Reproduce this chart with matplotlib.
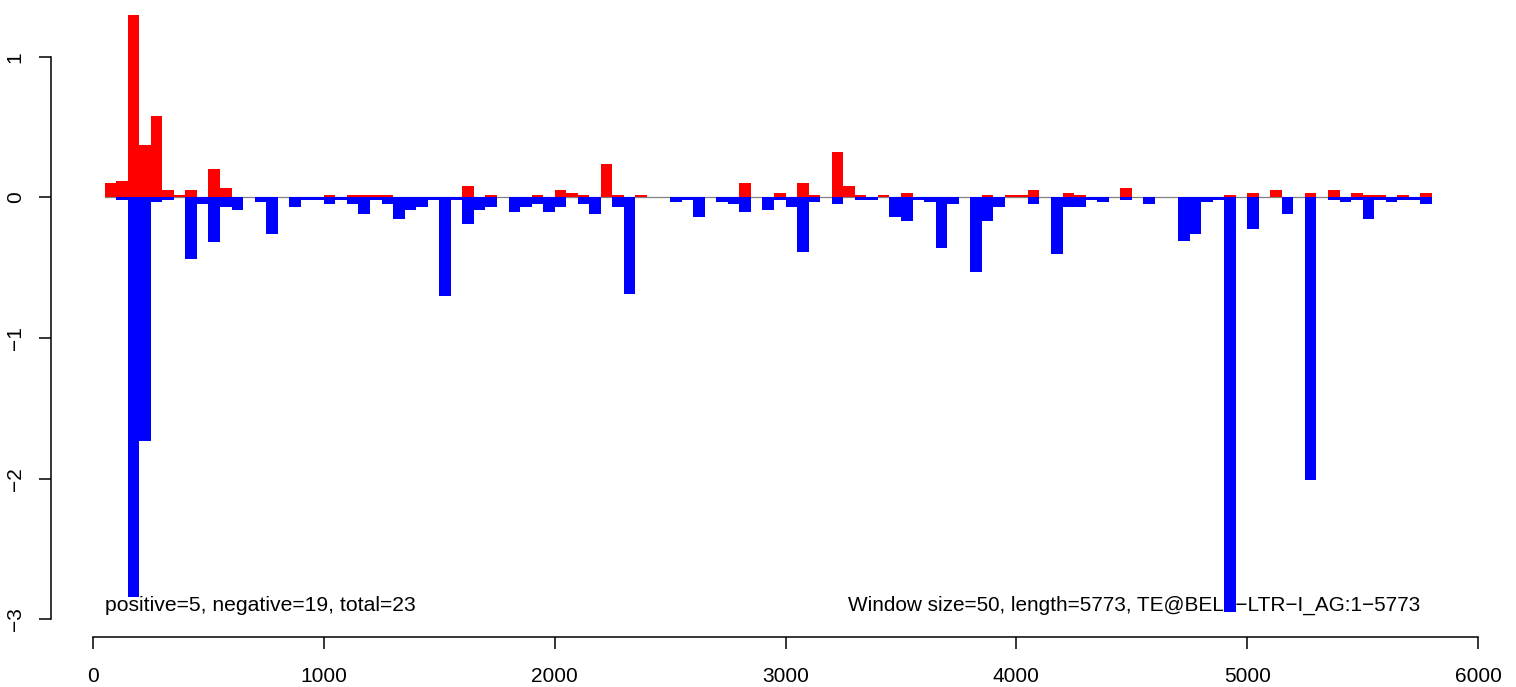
import matplotlib
matplotlib.use("Agg")
import matplotlib.pyplot as plt
import numpy as np

plt.rcParams['font.family'] = ['Liberation Sans', 'DejaVu Sans']

window = 50
win_start = [window * i for i in range(1, 116)]

pos_vals = [0.103, 0.117, 1.30, 0.373, 0.579, 0.053, 0.018, 0.053, 0, 0.203,
            0.067, 0, 0, 0, 0, 0, 0, 0, 0, 0.018,
            0, 0.018, 0.018, 0.018, 0.018, 0, 0, 0, 0, 0,
            0, 0.082, 0, 0.018, 0, 0, 0, 0.018, 0, 0.053,
            0.032, 0.018, 0, 0.238, 0.018, 0, 0.018, 0, 0, 0,
            0, 0, 0, 0, 0, 0.103, 0, 0, 0.032, 0,
            0.103, 0.018, 0, 0.323, 0.082, 0.018, 0, 0.018, 0, 0.032,
            0, 0, 0, 0, 0, 0, 0.018, 0, 0.018, 0.018,
            0.053, 0, 0, 0.032, 0.018, 0, 0, 0, 0.067, 0,
            0, 0, 0, 0, 0, 0, 0, 0.018, 0, 0.032,
            0, 0.053, 0, 0, 0.032, 0, 0.053, 0, 0.032, 0.018,
            0.018, 0, 0.018, 0, 0.032]

neg_vals = [0, -0.018, -2.838, -1.735, -0.03, -0.015, 0, -0.44, -0.05, -0.32,
            -0.065, -0.086, 0, -0.03, -0.257, 0, -0.065, -0.015, -0.015, -0.05,
            -0.015, -0.05, -0.115, -0.015, -0.05, -0.15, -0.086, -0.065, -0.015, -0.70,
            -0.015, -0.186, -0.086, -0.065, 0, -0.10, -0.065, -0.05, -0.10, -0.065,
            0, -0.05, -0.115, 0, -0.065, -0.683, 0, 0, 0, -0.03,
            -0.015, -0.137, 0, -0.03, -0.05, -0.10, 0, -0.086, -0.015, -0.065,
            -0.39, -0.03, 0, -0.05, 0, -0.015, -0.015, 0, -0.137, -0.17,
            -0.015, -0.03, -0.356, -0.05, 0, -0.527, -0.17, -0.065, 0, 0,
            -0.05, 0, -0.405, -0.065, -0.065, -0.015, -0.03, 0, -0.015, 0,
            -0.05, 0, 0, -0.307, -0.257, -0.03, -0.015, -2.945, 0, -0.224,
            0, 0, -0.115, 0, -2.01, 0, -0.015, -0.03, -0.015, -0.15,
            -0.015, -0.03, -0.015, -0.015, -0.05]

x_ticks = [0, 1000, 2000, 3000, 4000, 5000, 6000]
y_ticks = [-3, -2, -1, 0, 1]

left_text = "positive=5, negative=19, total=23"
right_text = "Window size=50, length=5773, TE@BEL6\u2212LTR\u2212I_AG:1\u22125773"

W, H = 1516, 687
fig = plt.figure(figsize=(W / 100, H / 100), dpi=100)
ax_l, ax_r, ax_b, ax_t = 51, 1497, 637, 15
ax = fig.add_axes([ax_l / W, 1 - ax_b / H, (ax_r - ax_l) / W, (ax_b - ax_t) / H])

ax.set_xlim(-182, 6082)
ax.set_ylim(-3.125, 1.297)

ax.plot([win_start[0], win_start[-1]], [0, 0], color='#808080', lw=0.9, zorder=1)
ax.bar(win_start, pos_vals, width=window, align='edge', color='#FF0000', linewidth=0, zorder=2)
ax.bar(win_start, neg_vals, width=window, align='edge', color='#0000FF', linewidth=0, zorder=2)

for s in ['top', 'right']:
    ax.spines[s].set_visible(False)
ax.spines['left'].set_bounds(-3, 1)
ax.spines['bottom'].set_bounds(0, 6000)
for s in ['left', 'bottom']:
    ax.spines[s].set_linewidth(1.1)
    ax.spines[s].set_color('black')

ax.set_xticks(x_ticks)
ax.set_xticklabels([str(v) for v in x_ticks])
ax.set_yticks(y_ticks)
ax.set_yticklabels([str(v).replace('-', '\u2212') for v in y_ticks], rotation=90, va='center')
ax.tick_params(axis='both', length=8.3, width=1.1, labelsize=15, color='black')
ax.tick_params(axis='x', pad=13)
ax.tick_params(axis='y', pad=10.6)

ax.text(win_start[0], -2.90, left_text, ha='left', va='center', fontsize=15.2, zorder=1.5)
ax.text(5750, -2.90, right_text, ha='right', va='center', fontsize=14.95, zorder=1.5)

fig.savefig('out.png', dpi=100)
